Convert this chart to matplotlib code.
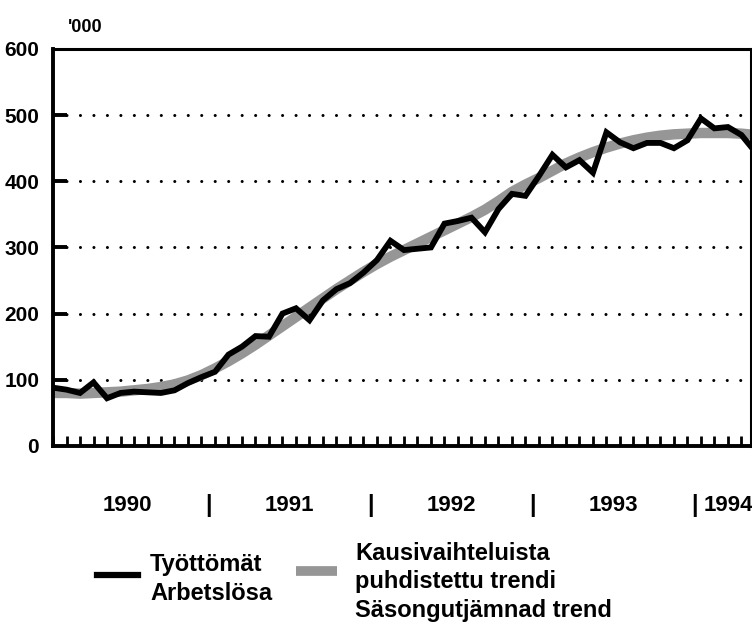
import numpy as np
import matplotlib
matplotlib.use('Agg')
import matplotlib.pyplot as plt
import matplotlib.transforms as mtransforms
from matplotlib.lines import Line2D

plt.rcParams['font.family'] = ['Liberation Sans', 'DejaVu Sans']
plt.rcParams['font.weight'] = 'bold'

######################################################
# Monthly values, Jan 1990 - May 1994, thousands
actual = [88, 85, 80, 96, 72, 80, 82, 81, 80, 84, 95, 104,
          112, 138, 150, 166, 165, 200, 208, 190, 220, 237, 246, 262,
          281, 310, 296, 298, 300, 336, 340, 345, 323, 358, 381, 378,
          408, 440, 421, 432, 413, 474, 459, 450, 458, 458, 450, 462,
          495, 480, 482, 470, 445]
trend = [80, 80, 79, 80, 81, 82, 84, 86, 89, 93, 99, 107,
         117, 128, 140, 153, 167, 181, 195, 209, 223, 237, 250, 263,
         275, 286, 296, 306, 316, 326, 336, 346, 357, 370, 384, 395,
         405, 416, 427, 436, 444, 451, 457, 462, 466, 469, 471, 472,
         473, 473, 473, 472, 470]
years = ['1990', '1991', '1992', '1993']
last_year = '1994'
y_ticks = [0, 100, 200, 300, 400, 500, 600]

months = np.arange(len(actual))

fig = plt.figure(figsize=(7.52, 6.28), dpi=100)
ax = fig.add_axes([0.0705, 0.290, 0.928, 0.632])

# trend band under the monthly line
ax.plot(months, trend, color='#969696', lw=7.5, solid_capstyle='butt', zorder=2)
ax.plot(months, actual, color='black', lw=4.2, solid_joinstyle='miter', zorder=3)

ax.set_xlim(0, 51.7)
ax.set_ylim(0, 600)
ax.set_yticks(y_ticks)
ax.set_yticklabels([str(v) for v in y_ticks], fontsize=15, fontweight='bold')
ax.set_xticks(months[:52])
ax.set_xticklabels([])
ax.tick_params(axis='x', direction='in', length=7, width=2)
ax.tick_params(axis='y', direction='in', length=0, pad=10)

# short tick stubs on the left edge at each gridline
ytrans = mtransforms.blended_transform_factory(ax.transAxes, ax.transData)
ax.hlines(y_ticks[1:-1], 0, 0.02, transform=ytrans, color='black', lw=2.8,
          zorder=4)

for v in y_ticks[1:-1]:
    ax.axhline(v, color='black', lw=2.2, linestyle=(0, (0.01, 4.4)),
               dash_capstyle='round', zorder=1)

for s in ax.spines.values():
    s.set_linewidth(2.2)
ax.spines['left'].set_linewidth(2.8)
ax.spines['bottom'].set_linewidth(2.8)

# year labels under the axis
trans = mtransforms.blended_transform_factory(ax.transData, ax.transAxes)
for k, yr in enumerate(years):
    ax.text(5.5 + 12 * k, -0.15, yr, transform=trans, ha='center',
            va='center', fontsize=16, fontweight='bold')
    ax.text(11.5 + 12 * k, -0.15, '|', transform=trans, ha='center',
            va='center', fontsize=17, fontweight='bold')
ax.text(48.2, -0.15, last_year, transform=trans, ha='left',
        va='center', fontsize=16, fontweight='bold')

fig.text(0.090, 1 - 32 / 628, "'000", fontsize=13, fontweight='bold',
         va='baseline')

# legend drawn by hand
fig.add_artist(Line2D([97 / 752, 138 / 752], [1 - 575 / 628] * 2,
                      color='black', lw=4.5, transform=fig.transFigure))
fig.add_artist(Line2D([296 / 752, 337 / 752], [1 - 571 / 628] * 2,
                      color='#969696', lw=7, transform=fig.transFigure,
                      solid_capstyle='butt'))
fig.text(150 / 752, 1 - 571 / 628, 'Työttömät', fontsize=17,
         fontweight='bold', va='baseline')
fig.text(150 / 752, 1 - 600 / 628, 'Arbetslösa', fontsize=17,
         fontweight='bold', va='baseline')
fig.text(355 / 752, 1 - 560 / 628, 'Kausivaihteluista', fontsize=17,
         fontweight='bold', va='baseline')
fig.text(355 / 752, 1 - 588 / 628, 'puhdistettu trendi', fontsize=17,
         fontweight='bold', va='baseline')
fig.text(355 / 752, 1 - 617 / 628, 'Säsongutjämnad trend', fontsize=17,
         fontweight='bold', va='baseline')

fig.savefig('out.png', dpi=100)
